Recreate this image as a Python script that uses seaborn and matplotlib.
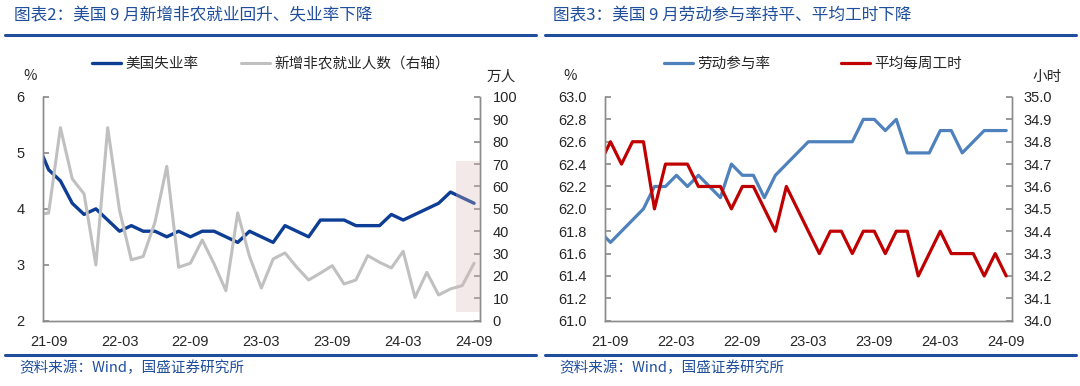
import matplotlib
matplotlib.use("Agg")
import matplotlib.pyplot as plt
from matplotlib.patches import Rectangle
from matplotlib.lines import Line2D
import seaborn as sns
import pandas as pd

# monthly, 2021-08 .. 2024-09 (first point only feeds the clipped edge)
months = pd.period_range("2021-08", "2024-09", freq="M").strftime("%y-%m").tolist()
unemp = [5.2, 4.7, 4.5, 4.1, 3.9, 4.0, 3.8, 3.6, 3.7, 3.6, 3.6, 3.5, 3.6, 3.5, 3.6, 3.6,
         3.5, 3.4, 3.6, 3.5, 3.4, 3.7, 3.6, 3.5, 3.8, 3.8, 3.8, 3.7, 3.7, 3.7, 3.9, 3.8,
         3.9, 4.0, 4.1, 4.3, 4.2, 4.1]
nfp = [47.5, 48.1, 86.3, 63.4, 56.7, 24.9, 86.3, 49.3, 27.2, 28.7, 44.0, 69.0, 23.9, 25.7,
       36.1, 25.4, 13.4, 48.2, 28.7, 14.6, 27.6, 30.3, 23.9, 18.2, 21.3, 24.6, 16.4, 18.2,
       29.1, 26.1, 23.6, 31.0, 10.4, 21.6, 11.5, 14.2, 15.7, 25.7]
lfpr = [61.8, 61.7, 61.8, 61.9, 62.0, 62.2, 62.2, 62.3, 62.2, 62.3, 62.2, 62.1, 62.4, 62.3,
        62.3, 62.1, 62.3, 62.4, 62.5, 62.6, 62.6, 62.6, 62.6, 62.6, 62.8, 62.8, 62.7, 62.8,
        62.5, 62.5, 62.5, 62.7, 62.7, 62.5, 62.6, 62.7, 62.7, 62.7]
hours = [34.7, 34.8, 34.7, 34.8, 34.8, 34.5, 34.7, 34.7, 34.7, 34.6, 34.6, 34.6, 34.5, 34.6,
         34.6, 34.5, 34.4, 34.6, 34.5, 34.4, 34.3, 34.4, 34.4, 34.3, 34.4, 34.4, 34.3, 34.4,
         34.4, 34.2, 34.3, 34.4, 34.3, 34.3, 34.3, 34.2, 34.3, 34.2]
tick_labels = ["21-09", "22-03", "22-09", "23-03", "23-09", "24-03", "24-09"]

df = pd.DataFrame({"month": months, "unemp": unemp, "nfp": nfp, "lfpr": lfpr, "hours": hours})
df["idx"] = range(-1, len(df) - 1)

sns.set_theme(style="white")
plt.rcParams["font.family"] = ["Liberation Sans", "Noto Sans CJK SC"]
CJK = ["Noto Sans CJK SC", "DejaVu Sans"]
TITLE_C = "#1f4e9c"
SPINE_C = "#8c8c8c"

fig = plt.figure(figsize=(10.8, 3.86), dpi=100)


def style_axes(ax, axr, pad_l, pad_r):
    ax.set_xlim(-0.5, 36.5)
    ax.spines["top"].set_visible(False)
    axr.spines["top"].set_visible(False)
    for sp in ["left", "bottom", "right"]:
        ax.spines[sp].set_color(SPINE_C)
        axr.spines[sp].set_color(SPINE_C)
        ax.spines[sp].set_linewidth(1.0)
        axr.spines[sp].set_linewidth(1.0)
    # ticks sit on category borders, labels on the month itself
    ax.set_xticks([i - 0.5 for i in range(0, 37, 6)])
    ax.set_xticklabels([])
    ax.set_xticks(list(range(0, 37, 6)), minor=True)
    ax.set_xticklabels(tick_labels, minor=True)
    ax.tick_params(axis="x", which="major", direction="in", length=4, color=SPINE_C)
    ax.tick_params(axis="x", which="minor", length=0, pad=10, labelsize=10.5)
    ax.tick_params(axis="y", direction="in", length=4, color=SPINE_C, pad=pad_l, labelsize=10.5)
    axr.tick_params(axis="y", direction="in", length=4, color=SPINE_C, pad=pad_r, labelsize=10.5)
    ax.set_xlabel("")
    ax.set_ylabel("")
    axr.set_ylabel("")
    ax.grid(False)
    axr.grid(False)


# ---------- left panel ----------
ax1 = fig.add_axes([42.7 / 1080, 1 - 320.7 / 386, 437.3 / 1080, 223.7 / 386])
ax1r = ax1.twinx()
sns.lineplot(data=df, x="idx", y="unemp", ax=ax1, color="#0d3d94", linewidth=2.4)
sns.lineplot(data=df, x="idx", y="nfp", ax=ax1r, color="#c0c0c0", linewidth=2.2)
ax1.set_ylim(2, 6)
ax1.set_yticks([2, 3, 4, 5, 6])
ax1r.set_ylim(0, 100)
ax1r.set_yticks(range(0, 101, 10))
style_axes(ax1, ax1r, 13, 9)
ax1r.add_patch(Rectangle((34.47, 4.0), 36.5 - 34.47, 67.5, facecolor="#dcb7b7",
                         alpha=0.3, edgecolor="none", zorder=5))

# ---------- right panel ----------
ax2 = fig.add_axes([605 / 1080, 1 - 320.7 / 386, 406.7 / 1080, 223.7 / 386])
ax2r = ax2.twinx()
sns.lineplot(data=df, x="idx", y="lfpr", ax=ax2, color="#4f81bd", linewidth=2.3)
sns.lineplot(data=df, x="idx", y="hours", ax=ax2r, color="#c00000", linewidth=2.3)
ax2.set_ylim(61.0, 63.0)
ax2.set_yticks([61.0 + 0.2 * i for i in range(11)])
ax2.set_yticklabels([f"{61.0 + 0.2 * i:.1f}" for i in range(11)])
ax2r.set_ylim(34.0, 35.0)
ax2r.set_yticks([34.0 + 0.1 * i for i in range(11)])
ax2r.set_yticklabels([f"{34.0 + 0.1 * i:.1f}" for i in range(11)])
style_axes(ax2, ax2r, 13, 8.5)

# ---------- legends ----------
leg_kw = dict(loc="center", ncol=2, frameon=False, handlelength=2.0, handletextpad=0.3,
              prop={"family": CJK, "size": 10.5})
fig.legend([Line2D([], [], color="#0d3d94", lw=2.4), Line2D([], [], color="#c0c0c0", lw=2.2)],
           ["美国失业率", "新增非农就业人数（右轴）"], bbox_to_anchor=(271 / 1080, 1 - 64 / 386),
           columnspacing=2.9, **leg_kw)
fig.legend([Line2D([], [], color="#4f81bd", lw=2.3), Line2D([], [], color="#c00000", lw=2.3)],
           ["劳动参与率", "平均每周工时"], bbox_to_anchor=(813 / 1080, 1 - 64 / 386),
           columnspacing=4.8, **leg_kw)

# ---------- units ----------
unit_kw = dict(ha="center", va="center", fontsize=10.5, family=CJK)
fig.text(30.5 / 1080, 1 - 76 / 386, "%", **unit_kw)
fig.text(501 / 1080, 1 - 77 / 386, "万人", **unit_kw)
fig.text(570.5 / 1080, 1 - 76 / 386, "%", **unit_kw)
fig.text(1047 / 1080, 1 - 77 / 386, "小时", **unit_kw)

# ---------- titles, rules and sources ----------
title_kw = dict(ha="left", va="center", fontsize=12, color=TITLE_C, family=CJK, style="italic")
fig.text(14 / 1080, 1 - 16 / 386, "图表2：美国 9 月新增非农就业回升、失业率下降", **title_kw)
fig.text(553 / 1080, 1 - 16 / 386, "图表3：美国 9 月劳动参与率持平、平均工时下降", **title_kw)
src_kw = dict(ha="left", va="center", fontsize=10.5, color=TITLE_C, family=CJK, style="italic")
fig.text(19 / 1080, 1 - 368 / 386, "资料来源：Wind，国盛证券研究所", **src_kw)
fig.text(559 / 1080, 1 - 368 / 386, "资料来源：Wind，国盛证券研究所", **src_kw)
for x0, x1 in [(5, 536), (545, 1076)]:
    for y in (35, 355):
        fig.add_artist(Line2D([x0 / 1080, x1 / 1080], [1 - y / 386, 1 - y / 386],
                              color="#1f4e9c", lw=2.2, transform=fig.transFigure))

fig.savefig("out.png", dpi=100)
